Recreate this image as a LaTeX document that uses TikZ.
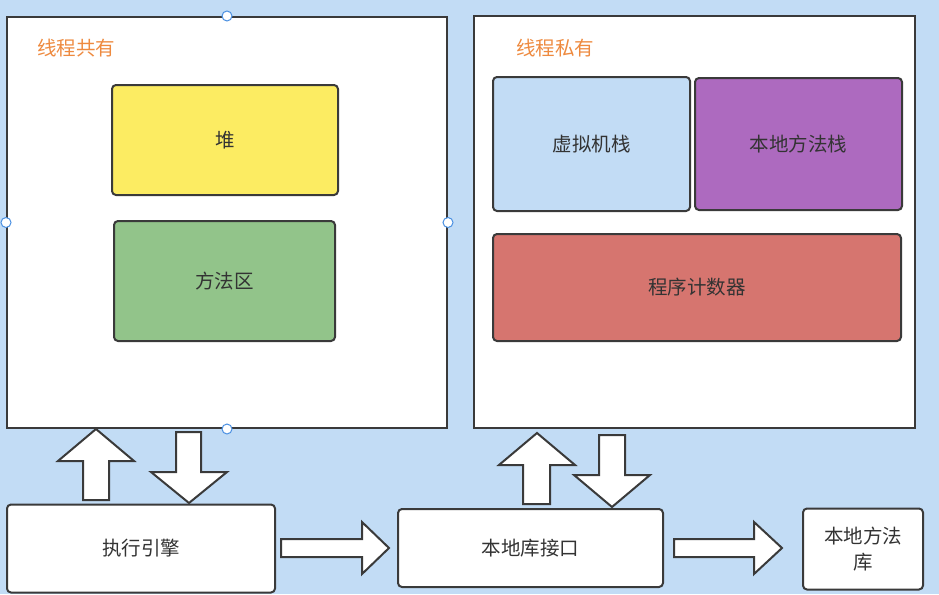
\documentclass[tikz,border=0pt]{standalone}
\usepackage{fontspec}
\newfontfamily\cjk{Noto Sans CJK SC}
\definecolor{bg}{HTML}{C2DCF5}
\definecolor{lin}{HTML}{3A3A3A}
\definecolor{txt}{HTML}{333333}
\definecolor{yel}{HTML}{FCEC62}
\definecolor{grn}{HTML}{92C48A}
\definecolor{pur}{HTML}{AD6ABF}
\definecolor{redd}{HTML}{D6756F}
\definecolor{org}{HTML}{EE8A3F}
\definecolor{hdl}{HTML}{4A90E2}
\tikzset{
  panel/.style={draw=lin, line width=2pt, fill=white, inner sep=0pt},
  box/.style={draw=lin, line width=2pt, rounded corners=4pt, inner sep=0pt, text=txt,
    font=\cjk\fontsize{19.5}{26}\selectfont, align=center},
  title/.style={text=org, font=\cjk\fontsize{19.5}{20}\selectfont, anchor=west, inner sep=0pt},
  blockarrow/.style={draw=lin, line width=2pt, fill=white, line join=miter},
  handle/.style={circle, draw=hdl, fill=white, line width=1pt, minimum size=10pt, inner sep=0pt}
}
\begin{document}
\begin{tikzpicture}[x=1pt,y=-1pt]
\fill[bg] (0,0) rectangle (939,594);
\useasboundingbox (0,0) rectangle (939,594);
% panels
\node[panel, minimum width=440pt, minimum height=411pt] (shared) at (227,222.5) {};
\node[panel, minimum width=441pt, minimum height=412pt] (private) at (694.5,222) {};
\node[title] (tshared) at (37,48) {线程共有};
\node[title] (tprivate) at (516,48) {线程私有};
% inner boxes
\node[box, fill=yel, minimum width=226pt, minimum height=110pt] (heap) at (225,140) {堆};
\node[box, fill=grn, minimum width=221pt, minimum height=120pt] (method) at (224.5,281) {方法区};
\node[box, fill=bg, minimum width=197pt, minimum height=134pt] (vmstack) at (591.5,144) {虚拟机栈};
\node[box, fill=pur, minimum width=207pt, minimum height=132pt] (nstack) at (798.5,144) {本地方法栈};
\node[box, fill=redd, minimum width=408pt, minimum height=107pt] (pc) at (697,287.5) {程序计数器};
% bottom boxes
\node[box, fill=white, minimum width=268pt, minimum height=88pt] (engine) at (141,548.5) {执行引擎};
\node[box, fill=white, minimum width=265pt, minimum height=78pt] (iface) at (530.5,548) {本地库接口};
\node[box, fill=white, minimum width=120pt, minimum height=81pt] (lib) at (863,549) {本地方法\\库};
% block arrows
\draw[blockarrow] (83,500) -- (83,461) -- (58,461) -- (96,429) -- (134,461) -- (109,461) -- (109,500) -- cycle;
\draw[blockarrow] (176,432) -- (201,432) -- (201,472) -- (227,472) -- (189,503) -- (151,472) -- (176,472) -- cycle;
\draw[blockarrow] (281,539) -- (362,539) -- (362,522) -- (389,548) -- (362,574) -- (362,557) -- (281,557) -- cycle;
\draw[blockarrow] (523,504) -- (523,465) -- (499,465) -- (537,433) -- (575,465) -- (550,465) -- (550,504) -- cycle;
\draw[blockarrow] (599,435) -- (625,435) -- (625,475) -- (650,475) -- (612,507) -- (574,475) -- (599,475) -- cycle;
\draw[blockarrow] (674,539) -- (754,539) -- (754,522) -- (782,548) -- (754,574) -- (754,557) -- (674,557) -- cycle;
% selection handles
\node[handle] (h1) at (shared.north) {};
\node[handle] (h2) at (shared.west) {};
\node[handle] (h3) at (shared.east) {};
\node[handle] (h4) at (shared.south) {};
\end{tikzpicture}
\end{document}
